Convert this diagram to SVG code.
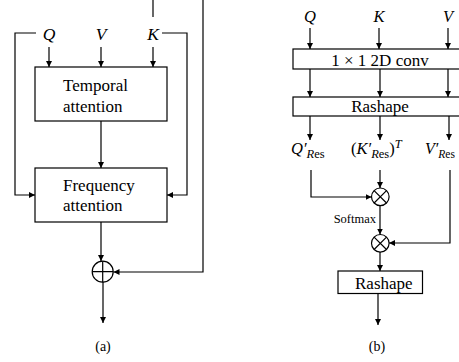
<svg xmlns="http://www.w3.org/2000/svg" width="459" height="362" viewBox="0 0 459 362">
<style>
.ln{fill:none;stroke:#000;stroke-width:1.2}
.bx{fill:#fff;stroke:#000;stroke-width:1.2}
.t{font-family:"Liberation Serif",serif;fill:#000}
.m{font-family:"Liberation Serif",serif;font-style:italic;fill:#000}
</style>
<defs>
<marker id="ah" markerWidth="6" markerHeight="6" refX="6" refY="3" orient="auto" markerUnits="userSpaceOnUse">
<path d="M0,0 L6,3 L0,6 Z" fill="#000"/>
</marker>
</defs>
<rect width="459" height="362" fill="#fff"/>
<g id="connectors">
<path class="ln" d="M153,0 V17"/>
<path class="ln" d="M203,0 V272 H113.5" marker-end="url(#ah)"/>
<path class="ln" d="M36,33 H15 V195 H35" marker-end="url(#ah)"/>
<path class="ln" d="M162,33 H187 V195 H167" marker-end="url(#ah)"/>
<path class="ln" d="M49,47 V67" marker-end="url(#ah)"/>
<path class="ln" d="M101,47 V67" marker-end="url(#ah)"/>
<path class="ln" d="M153,47 V67" marker-end="url(#ah)"/>
<path class="ln" d="M101,121 V168" marker-end="url(#ah)"/>
<path class="ln" d="M101,222 V261" marker-end="url(#ah)"/>
<path class="ln" d="M103,282 V323" marker-end="url(#ah)"/>
<path class="ln" d="M310,28 V49" marker-end="url(#ah)"/>
<path class="ln" d="M379,28 V49" marker-end="url(#ah)"/>
<path class="ln" d="M448,28 V49" marker-end="url(#ah)"/>
<path class="ln" d="M310,69 V97" marker-end="url(#ah)"/>
<path class="ln" d="M380,69 V97" marker-end="url(#ah)"/>
<path class="ln" d="M448,69 V97" marker-end="url(#ah)"/>
<path class="ln" d="M310,116 V140" marker-end="url(#ah)"/>
<path class="ln" d="M380,116 V140" marker-end="url(#ah)"/>
<path class="ln" d="M449,116 V140" marker-end="url(#ah)"/>
<path class="ln" d="M311,170 V197 H371.5" marker-end="url(#ah)"/>
<path class="ln" d="M380,170 V188" marker-end="url(#ah)"/>
<path class="ln" d="M450,170 V243 H389" marker-end="url(#ah)"/>
<path class="ln" d="M380,206 V234.5" marker-end="url(#ah)"/>
<path class="ln" d="M380,252 V271" marker-end="url(#ah)"/>
<path class="ln" d="M378,293 V325" marker-end="url(#ah)"/>
</g>
<g id="inputs-a">
<text class="m" x="49" y="40" font-size="17.5" text-anchor="middle">Q</text>
<text class="m" x="101" y="40" font-size="17.5" text-anchor="middle">V</text>
<text class="m" x="153" y="40" font-size="17.5" text-anchor="middle">K</text>
</g>
<g id="temporal">
<rect class="bx" x="35" y="67" width="132" height="54"/>
<text class="t" x="63" y="91" font-size="17">Temporal</text>
<text class="t" x="63" y="112" font-size="17">attention</text>
</g>
<g id="frequency">
<rect class="bx" x="35" y="168" width="132" height="54"/>
<text class="t" x="63" y="190.5" font-size="17">Frequency</text>
<text class="t" x="63" y="210.5" font-size="17">attention</text>
</g>
<g id="add">
<circle class="bx" cx="102.7" cy="271.7" r="10.5"/>
<path class="ln" d="M92.2,271.7 H113.2 M102.7,261.2 V282.2"/>
</g>
<text class="t" x="103" y="351" font-size="14" text-anchor="middle">(a)</text>
<g id="inputs-b">
<text class="m" x="310" y="22" font-size="16.5" text-anchor="middle">Q</text>
<text class="m" x="379" y="22" font-size="16.5" text-anchor="middle">K</text>
<text class="m" x="448" y="22" font-size="16.5" text-anchor="middle">V</text>
</g>
<g id="conv">
<rect class="bx" x="293" y="49" width="180" height="20"/>
<text class="t" x="380" y="65.5" font-size="17" text-anchor="middle">1 × 1 2D conv</text>
</g>
<g id="reshape1">
<rect class="bx" x="293" y="97" width="180" height="19"/>
<text class="t" x="380" y="112" font-size="17" text-anchor="middle">Rashape</text>
</g>
<g id="labels-b">
<text x="291" y="154" font-size="16.5"><tspan class="m">Q</tspan><tspan class="m">′</tspan><tspan class="m" font-size="12.5" dy="4">R</tspan><tspan class="t" font-size="12.5">es</tspan></text>
<text x="351" y="154" font-size="16.5"><tspan class="t">(</tspan><tspan class="m">K</tspan><tspan class="m">′</tspan><tspan class="m" font-size="12.5" dy="4">R</tspan><tspan class="t" font-size="12.5">es</tspan><tspan class="t" dy="-4">)</tspan><tspan class="m" font-size="12.5" dy="-6">T</tspan></text>
<text x="425" y="154" font-size="16"><tspan class="m">V</tspan><tspan class="m">′</tspan><tspan class="m" font-size="11.5" dy="4">R</tspan><tspan class="t" font-size="11.5">es</tspan></text>
</g>
<g id="mul1">
<circle class="bx" cx="380.3" cy="196.8" r="8.8"/>
<path class="ln" d="M374.1,190.6 L386.5,203 M386.5,190.6 L374.1,203"/>
</g>
<text class="t" x="376" y="223" font-size="12.5" text-anchor="end">Softmax</text>
<g id="mul2">
<circle class="bx" cx="380.3" cy="243.3" r="8.8"/>
<path class="ln" d="M374.1,237.1 L386.5,249.5 M386.5,237.1 L374.1,249.5"/>
</g>
<g id="reshape2">
<rect class="bx" x="338" y="271" width="84.5" height="22.5"/>
<text class="t" x="355" y="289" font-size="17">Rashape</text>
</g>
<text class="t" x="377" y="351" font-size="14" text-anchor="middle">(b)</text>
</svg>
